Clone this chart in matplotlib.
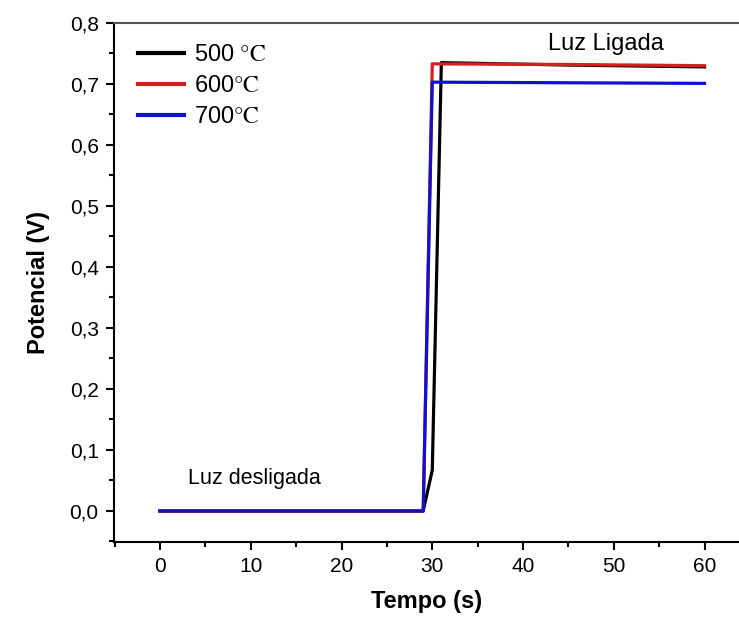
import matplotlib
matplotlib.use("Agg")
import matplotlib.pyplot as plt
from matplotlib.ticker import MultipleLocator, FuncFormatter

plt.rcParams['font.family'] = ['Liberation Sans', 'DejaVu Sans']
plt.rcParams['mathtext.fontset'] = 'stix'

# data
t_500 = [0, 29, 30, 31, 45, 60]
v_500 = [0.0, 0.0, 0.067, 0.735, 0.731, 0.728]
t_600 = [0, 29, 30, 45, 60]
v_600 = [0.0, 0.0, 0.733, 0.732, 0.730]
t_700 = [0, 29, 30, 45, 60]
v_700 = [0.0, 0.0, 0.703, 0.702, 0.701]

labels = ["500 $\\mathrm{°C}$", "600$\\mathrm{°C}$", "700$\\mathrm{°C}$"]

fig = plt.figure(figsize=(7.39, 6.18), dpi=100)
ax = fig.add_axes([0.1543, 0.1235, 0.8457, 0.8393])

ax.plot(t_500, v_500, color='black', lw=2.3, label=labels[0])
ax.plot(t_600, v_600, color='#d62020', lw=2.3, label=labels[1])
ax.plot(t_700, v_700, color='#1010d0', lw=2.3, label=labels[2])

ax.set_xlim(-5.07, 63.8)
ax.set_ylim(-0.0503, 0.8)

ax.xaxis.set_major_locator(MultipleLocator(10))
ax.xaxis.set_minor_locator(MultipleLocator(5))
ax.yaxis.set_major_locator(MultipleLocator(0.1))
ax.yaxis.set_minor_locator(MultipleLocator(0.05))
ax.yaxis.set_major_formatter(FuncFormatter(lambda v, p: f"{v:.1f}".replace('.', ',')))

ax.tick_params(which='major', direction='out', length=6, width=1.5, labelsize=15, pad=5)
ax.tick_params(which='minor', direction='out', length=3.5, width=1.5)

ax.spines['right'].set_visible(False)
ax.spines['top'].set_color('#555555')
for s in ['left', 'bottom', 'top']:
    ax.spines[s].set_linewidth(1.5)

ax.set_xlabel("Tempo (s)", fontsize=17, fontweight='bold', labelpad=10)
ax.set_ylabel("Potencial (V)", fontsize=17, fontweight='bold', labelpad=14)

ax.text(3.1, 0.045, "Luz desligada", fontsize=15.5)
ax.text(42.7, 0.755, "Luz Ligada", fontsize=17)

leg = ax.legend(loc='upper left', frameon=False, fontsize=17, handlelength=1.95,
                handletextpad=0.45, labelspacing=0.38, borderaxespad=0.6,
                bbox_to_anchor=(0.0, 1.005))
for h in leg.get_lines():
    h.set_linewidth(3)

fig.savefig("out.png", dpi=100)
